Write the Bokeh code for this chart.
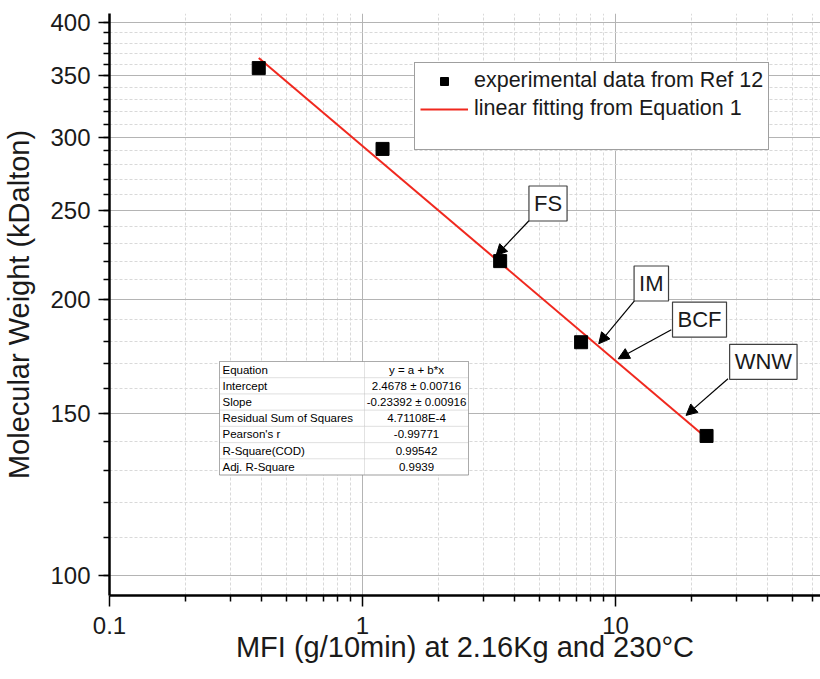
import math
from bokeh.plotting import figure
from bokeh.models import (Range1d, FixedTicker, CustomJSTickFormatter, Legend, LegendItem,
                          Label, Arrow, NormalHead, BoxAnnotation, ColumnDataSource)
from bokeh.embed import file_html
from bokeh.resources import INLINE

# ---------------- data ----------------
mfi = [0.389, 1.20, 3.50, 7.31, 22.9]          # g/10min
mw = [357.0, 291.5, 220.0, 179.5, 141.9]        # kDalton
fit_mfi = [0.389, 22.9]
fit_mw = [366.2, 141.2]

x_ticks = [0.1, 1, 10]
x_minor = [0.2, 0.3, 0.4, 0.5, 0.6, 0.7, 0.8, 0.9, 2, 3, 4, 5, 6, 7, 8, 9, 20, 30, 40, 50, 60]
y_ticks = [100, 150, 200, 250, 300, 350, 400]
y_minor = [100, 110, 120, 130, 140, 150, 160, 170, 180, 190, 200, 210, 220, 230, 240, 250,
           260, 270, 280, 290, 300, 310, 320, 330, 340, 350, 360, 370, 380, 390, 400]

callout_text = ["FS", "IM", "BCF", "WNW"]
callout_x = [5.41, 13.85, 21.48, 38.4]
callout_y = [254.2, 208.0, 190.0, 170.9]
arrow_x0 = [4.56, 11.97, 16.62, 27.84]
arrow_y0 = [243.6, 199.6, 185.2, 163.8]
arrow_x1 = [3.372, 8.584, 10.25, 19.0]
arrow_y1 = [223.1, 178.8, 172.2, 149.4]

table_keys = ["Equation", "Intercept", "Slope", "Residual Sum of Squares", "Pearson's r",
              "R-Square(COD)", "Adj. R-Square"]
table_vals = ["y = a + b*x", "2.4678 \u00b1 0.00716", "-0.23392 \u00b1 0.00916", "4.71108E-4",
              "-0.99771", "0.99542", "0.9939"]

x_title = "MFI (g/10min) at 2.16Kg and 230\u00b0C"
y_title = "Molecular Weight (kDalton)"

# ---------------- geometry ----------------
X0, X1 = 0.1, 64.6
Y0, Y1 = 95.1, 409.4
FL, FT, FW, FH = 109, 13, 711, 582
FONT = "Liberation Sans"


def px_x(px):
    return 10 ** (math.log10(X0) + (px - FL) / FW * (math.log10(X1) - math.log10(X0)))


def px_y(py):
    return 10 ** (math.log10(Y0) + (FT + FH - py) / FH * (math.log10(Y1) - math.log10(Y0)))


p = figure(x_axis_type="log", y_axis_type="log", frame_width=FW, frame_height=FH,
           x_range=Range1d(X0, X1), y_range=Range1d(Y0, Y1),
           output_backend="svg", toolbar_location=None,
           min_border_left=FL, min_border_top=FT, min_border_right=0, min_border_bottom=84)
p.outline_line_color = None
p.background_fill_color = "white"
p.border_fill_color = "white"

xt = FixedTicker(ticks=x_ticks, minor_ticks=x_minor)
yt = FixedTicker(ticks=y_ticks, minor_ticks=y_minor)
p.xaxis.ticker = xt
p.yaxis.ticker = yt
p.xgrid.ticker = xt
p.ygrid.ticker = yt
p.xaxis.formatter = CustomJSTickFormatter(code="return String(tick);")
p.yaxis.formatter = CustomJSTickFormatter(code="return String(tick);")

for g in (p.xgrid, p.ygrid):
    g.grid_line_color = "#b4b4b4"
    g.grid_line_width = 1
    g.minor_grid_line_color = "#d9d9d9"
    g.minor_grid_line_dash = "3 2"
    g.minor_grid_line_width = 1

for ax in (p.xaxis, p.yaxis):
    ax.axis_line_width = 2.5
    ax.axis_line_color = "black"
    ax.major_tick_line_width = 1.5
    ax.minor_tick_line_width = 1.5
    ax.major_tick_out = 11
    ax.major_tick_in = 0
    ax.minor_tick_out = 6
    ax.minor_tick_in = 0
    ax.major_label_text_font = FONT
    ax.major_label_text_font_size = "24px"
    ax.major_label_text_color = "#1a1a1a"
    ax.axis_label_text_font = FONT
    ax.axis_label_text_font_size = "29px"
    ax.axis_label_text_font_style = "normal"
    ax.axis_label_text_color = "#1a1a1a"

p.xaxis.axis_label = x_title
p.yaxis.axis_label = y_title
p.xaxis.major_label_standoff = 10
p.yaxis.major_label_standoff = 8
p.xaxis.axis_label_standoff = -6
p.yaxis.axis_label_standoff = 12

src = ColumnDataSource(dict(mfi=mfi, mw=mw))
fit_src = ColumnDataSource(dict(mfi=fit_mfi, mw=fit_mw))
ln = p.line("mfi", "mw", source=fit_src, line_color="#f0281e", line_width=2)
sc = p.scatter("mfi", "mw", source=src, marker="square", size=13,
               fill_color="black", line_color="black")
dummy = p.scatter(x=[], y=[], marker="square", size=1, fill_alpha=0, line_alpha=0)

legend = Legend(items=[LegendItem(label="experimental data from Ref 12", renderers=[sc]),
                       LegendItem(label="linear fitting from Equation 1", renderers=[ln]),
                       LegendItem(label=" ", renderers=[dummy])],
                location=(414 - FL, FT + FH - 150))
legend.label_text_font = FONT
legend.label_text_font_size = "21.5px"
legend.label_text_color = "#1a1a1a"
legend.glyph_width = 48
legend.glyph_height = 20
legend.label_standoff = 6
legend.padding = 5
legend.spacing = 3
legend.margin = 0
legend.border_line_color = "#404040"
legend.border_line_width = 1.5
legend.background_fill_color = "white"
legend.background_fill_alpha = 1
p.add_layout(legend)

# callouts
for t, lx, ly, ax0, ay0, ax1, ay1 in zip(callout_text, callout_x, callout_y,
                                          arrow_x0, arrow_y0, arrow_x1, arrow_y1):
    p.add_layout(Arrow(x_start=ax0, y_start=ay0, x_end=ax1, y_end=ay1,
                       line_color="black", line_width=1.2,
                       end=NormalHead(size=11, fill_color="black", line_color="black", line_width=1)))
    p.add_layout(Label(x=lx, y=ly, text=t, text_font=FONT, text_font_size="22px",
                       text_align="center", text_baseline="middle", text_color="#1a1a1a",
                       border_line_color="#404040", border_line_width=1.2,
                       background_fill_color="white", padding=5))

# fit-statistics table
TL, TR, TTOP, TB, TDIV = 219, 468, 361, 474.5, 364
rh = (TB - TTOP) / len(table_keys)
p.add_layout(BoxAnnotation(left=px_x(TL), right=px_x(TR), top=px_y(TTOP), bottom=px_y(TB),
                           fill_color="white", fill_alpha=1, line_color="#606060", line_width=1))
for i, (k, v) in enumerate(zip(table_keys, table_vals)):
    top = TTOP + i * rh
    bot = top + rh
    for l, r in ((TL, TDIV), (TDIV, TR)):
        p.add_layout(BoxAnnotation(left=px_x(l), right=px_x(r), top=px_y(top), bottom=px_y(bot),
                                   fill_alpha=0, line_color="#c8c8c8", line_width=1))
    mid = px_y(top + rh / 2)
    p.add_layout(Label(x=px_x(TL + 3), y=mid, text=k, text_font=FONT, text_font_size="11.5px",
                       text_align="left", text_baseline="middle", text_color="black"))
    p.add_layout(Label(x=px_x((TDIV + TR) / 2), y=mid, text=v, text_font=FONT,
                       text_font_size="11.5px", text_align="center", text_baseline="middle",
                       text_color="black"))
p.add_layout(BoxAnnotation(left=px_x(TL), right=px_x(TR), top=px_y(TTOP), bottom=px_y(TB),
                           fill_alpha=0, line_color="#606060", line_width=1))

open("out.html", "w").write(file_html(p, INLINE))
